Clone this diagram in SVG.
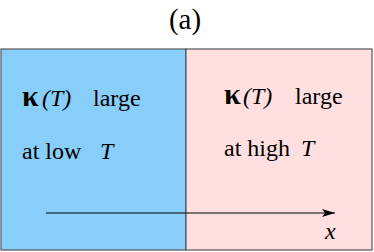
<svg xmlns="http://www.w3.org/2000/svg" width="374" height="252" viewBox="0 0 374 252">
<defs>
<marker id="ah" markerWidth="14" markerHeight="8" refX="13" refY="4" orient="auto" markerUnits="userSpaceOnUse">
<path d="M0,0 L13,4 L0,8 L3,4 Z" fill="#000"/>
</marker>
</defs>
<rect width="374" height="252" fill="#fff"/>
<g font-family="Liberation Serif, serif" font-size="24" fill="#000">
<text x="185" y="29" text-anchor="middle" font-size="29">(a)</text>
<g id="low">
<rect x="1" y="49" width="185" height="201" fill="#87CEFA" stroke="#555" stroke-width="1.2"/>
<text y="106"><tspan x="22" font-weight="bold" font-size="30">κ</tspan><tspan x="42" font-style="italic">(T)</tspan><tspan x="93">large</tspan></text>
<text y="159"><tspan x="22">at low</tspan><tspan x="100" font-style="italic">T</tspan></text>
</g>
<g id="high">
<rect x="186" y="49" width="186" height="201" fill="#FFDFE0" stroke="#555" stroke-width="1.2"/>
<text y="104"><tspan x="224" font-weight="bold" font-size="30">κ</tspan><tspan x="243" font-style="italic">(T)</tspan><tspan x="295">large</tspan></text>
<text y="156"><tspan x="224">at high</tspan><tspan x="301" font-style="italic">T</tspan></text>
</g>
<g id="connectors">
<line x1="46" y1="213" x2="335" y2="213" stroke="#000" stroke-width="1" marker-end="url(#ah)"/>
<text x="325" y="239" font-style="italic">x</text>
</g>
</g>
</svg>
